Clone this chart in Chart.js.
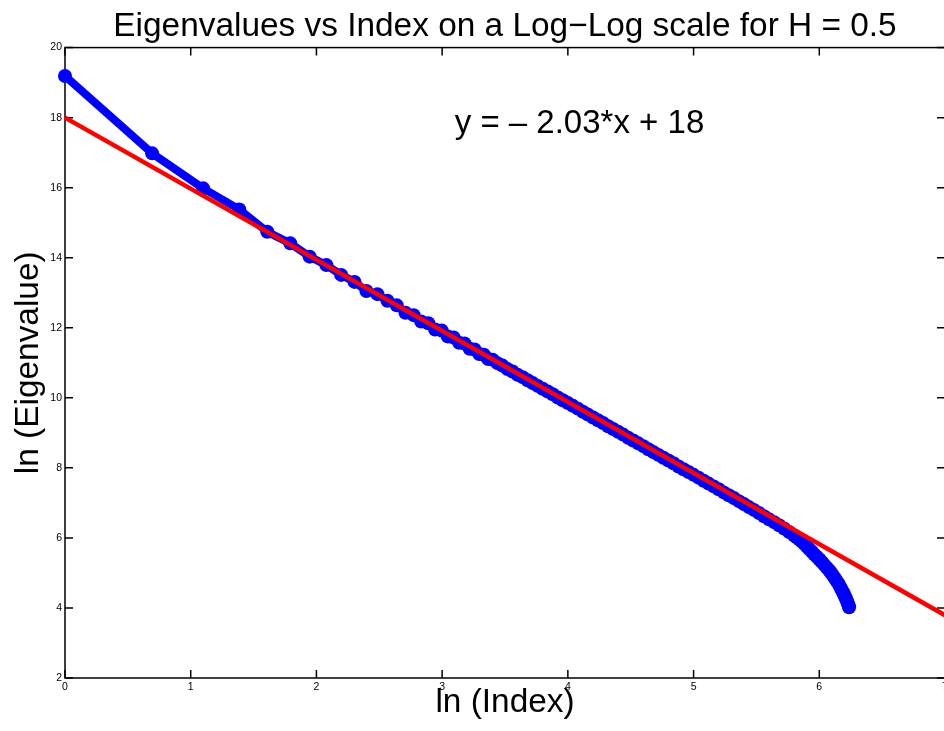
<!DOCTYPE html>
<html>
<head>
<meta charset="utf-8">
<script src="https://cdn.jsdelivr.net/npm/chart.js@4.4.0/dist/chart.umd.min.js"></script>
<style>
  html, body { margin: 0; padding: 0; background: #fff; overflow: hidden; }
  #wrap { width: 960px; height: 731px; }
</style>
</head>
<body>
<div id="wrap"><canvas id="eigChart" width="960" height="731"></canvas></div>
<script>
// ln(index) and ln(eigenvalue)
const lnIndex = [
  0, 0.693, 1.099, 1.386, 1.609, 1.792, 1.946, 2.079, 2.197, 2.303,
  2.398, 2.485, 2.565, 2.639, 2.708, 2.773, 2.833, 2.890, 2.944, 2.996,
  3.045, 3.091, 3.135, 3.178, 3.219, 3.258, 3.296, 3.332, 3.367, 3.401,
  3.44, 3.48, 3.52, 3.56, 3.60, 3.64, 3.68, 3.72, 3.76, 3.80,
  3.84, 3.88, 3.92, 3.96, 4.00, 4.04, 4.08, 4.12, 4.16, 4.20,
  4.24, 4.28, 4.32, 4.36, 4.40, 4.44, 4.48, 4.52, 4.56, 4.60,
  4.64, 4.68, 4.72, 4.76, 4.80, 4.84, 4.88, 4.92, 4.96, 5.00,
  5.04, 5.08, 5.12, 5.16, 5.20, 5.24, 5.28, 5.32, 5.36, 5.40,
  5.44, 5.48, 5.52, 5.56, 5.60, 5.64, 5.68, 5.72, 5.76, 5.80,
  5.82, 5.84, 5.86, 5.88, 5.90, 5.92, 5.94, 5.96, 5.98, 6.00,
  6.02, 6.04, 6.06, 6.08, 6.095, 6.11, 6.125, 6.14, 6.153, 6.165,
  6.175, 6.185, 6.193, 6.20, 6.208, 6.215, 6.222, 6.228, 6.233, 6.237
];
const lnEigen = [
  19.19, 16.98, 15.98, 15.38, 14.74, 14.41, 14.03, 13.79, 13.51, 13.31,
  13.05, 12.96, 12.77, 12.64, 12.43, 12.36, 12.18, 12.13, 11.95, 11.92,
  11.75, 11.72, 11.57, 11.55, 11.40, 11.38, 11.25, 11.23, 11.11, 11.09,
  10.99, 10.92, 10.82, 10.75, 10.66, 10.59, 10.50, 10.42, 10.34, 10.26,
  10.18, 10.10, 10.01, 9.93, 9.85, 9.77, 9.69, 9.60, 9.52, 9.44,
  9.36, 9.28, 9.19, 9.11, 9.03, 8.95, 8.86, 8.78, 8.70, 8.62,
  8.53, 8.45, 8.37, 8.29, 8.21, 8.13, 8.04, 7.96, 7.88, 7.80,
  7.72, 7.63, 7.55, 7.47, 7.39, 7.30, 7.22, 7.14, 7.05, 6.97,
  6.88, 6.80, 6.71, 6.62, 6.53, 6.45, 6.36, 6.27, 6.17, 6.07,
  6.02, 5.96, 5.90, 5.83, 5.76, 5.68, 5.61, 5.53, 5.46, 5.39,
  5.31, 5.23, 5.15, 5.07, 5.00, 4.92, 4.84, 4.76, 4.69, 4.61,
  4.54, 4.47, 4.42, 4.36, 4.30, 4.24, 4.18, 4.12, 4.07, 4.02
];
// least squares fit line  y = -2.03*x + 18
const fitX = [0, 7];
const fitY = [18, 3.79];
const fitLabel = 'y = \u2013 2.03*x + 18';
const fitLabelPos = [3.1, 17.82];

const xTickValues = [0, 1, 2, 3, 4, 5, 6, 7];
const yTickValues = [2, 4, 6, 8, 10, 12, 14, 16, 18, 20];

const FONT = '"Liberation Sans", Arial, Helvetica, sans-serif';

const toPoints = (xs, ys) => xs.map((x, i) => ({ x: x, y: ys[i] }));

// MATLAB style box with inward ticks + the equation text
const boxPlugin = {
  id: 'matlabBox',
  beforeDatasetsDraw(chart) {
    const { ctx, chartArea: a, scales } = chart;
    const len = 8;
    ctx.save();
    ctx.strokeStyle = '#000';
    ctx.lineWidth = 1.5;
    ctx.beginPath();
    scales.x.ticks.forEach(t => {
      const px = scales.x.getPixelForValue(t.value);
      ctx.moveTo(px, a.bottom); ctx.lineTo(px, a.bottom - len);
      ctx.moveTo(px, a.top); ctx.lineTo(px, a.top + len);
    });
    scales.y.ticks.forEach(t => {
      const py = scales.y.getPixelForValue(t.value);
      ctx.moveTo(a.left, py); ctx.lineTo(a.left + len, py);
      ctx.moveTo(a.right, py); ctx.lineTo(a.right - len, py);
    });
    ctx.stroke();
    ctx.strokeRect(a.left, a.top, a.right - a.left, a.bottom - a.top);
    ctx.restore();
  },
  afterDatasetsDraw(chart) {
    const { ctx, scales } = chart;
    ctx.save();
    ctx.fillStyle = '#000';
    ctx.font = '33px ' + FONT;
    ctx.textAlign = 'left';
    ctx.textBaseline = 'middle';
    ctx.fillText(fitLabel, scales.x.getPixelForValue(fitLabelPos[0]), scales.y.getPixelForValue(fitLabelPos[1]));
    ctx.restore();
  }
};

var ctx = document.getElementById('eigChart').getContext('2d');
var eigChart = new Chart(ctx, {
  type: 'scatter',
  data: {
    datasets: [
      {
        label: 'fit',
        data: toPoints(fitX, fitY),
        showLine: true,
        borderColor: '#ff0000',
        borderWidth: 4.5,
        pointRadius: 0,
        clip: false
      },
      {
        label: 'eigenvalues',
        data: toPoints(lnIndex, lnEigen),
        showLine: true,
        borderColor: '#0000ff',
        backgroundColor: '#0000ff',
        borderWidth: 8,
        borderJoinStyle: 'round',
        borderCapStyle: 'round',
        pointRadius: 7,
        pointBorderWidth: 0,
        pointBackgroundColor: '#0000ff',
        clip: false
      }
    ]
  },
  options: {
    responsive: false,
    animation: false,
    events: [],
    layout: { padding: { left: 0, right: 15, top: 0, bottom: 0 } },
    plugins: {
      legend: { display: false },
      tooltip: { enabled: false },
      title: {
        display: true,
        fullSize: false,
        text: 'Eigenvalues vs Index on a Log\u2212Log scale for H = 0.5',
        color: '#000',
        font: { family: FONT, size: 33.4, weight: 'normal' },
        padding: { top: 7, bottom: 0.5 }
      }
    },
    scales: {
      x: {
        type: 'linear',
        min: 0,
        max: 7,
        afterBuildTicks: s => { s.ticks = xTickValues.map(v => ({ value: v })); },
        afterFit: s => { s.height = 53; },
        grid: { display: false, drawTicks: false },
        border: { display: false },
        ticks: {
          autoSkip: false,
          maxRotation: 0,
          padding: 3,
          color: '#000',
          font: { family: FONT, size: 10.5 }
        },
        title: {
          display: true,
          text: 'ln (Index)',
          color: '#000',
          font: { family: FONT, size: 33.4 },
          padding: { top: 0, bottom: 8 }
        }
      },
      y: {
        type: 'linear',
        min: 2,
        max: 20,
        afterBuildTicks: s => { s.ticks = yTickValues.map(v => ({ value: v })); },
        afterFit: s => { s.width = 65; },
        grid: { display: false, drawTicks: false },
        border: { display: false },
        ticks: {
          autoSkip: false,
          padding: 3,
          color: '#000',
          font: { family: FONT, size: 10.5 }
        },
        title: {
          display: true,
          text: 'ln (Eigenvalue)',
          color: '#000',
          font: { family: FONT, size: 33.4 },
          padding: { top: 9, bottom: 0 }
        }
      }
    }
  },
  plugins: [boxPlugin]
});
</script>
</body>
</html>
